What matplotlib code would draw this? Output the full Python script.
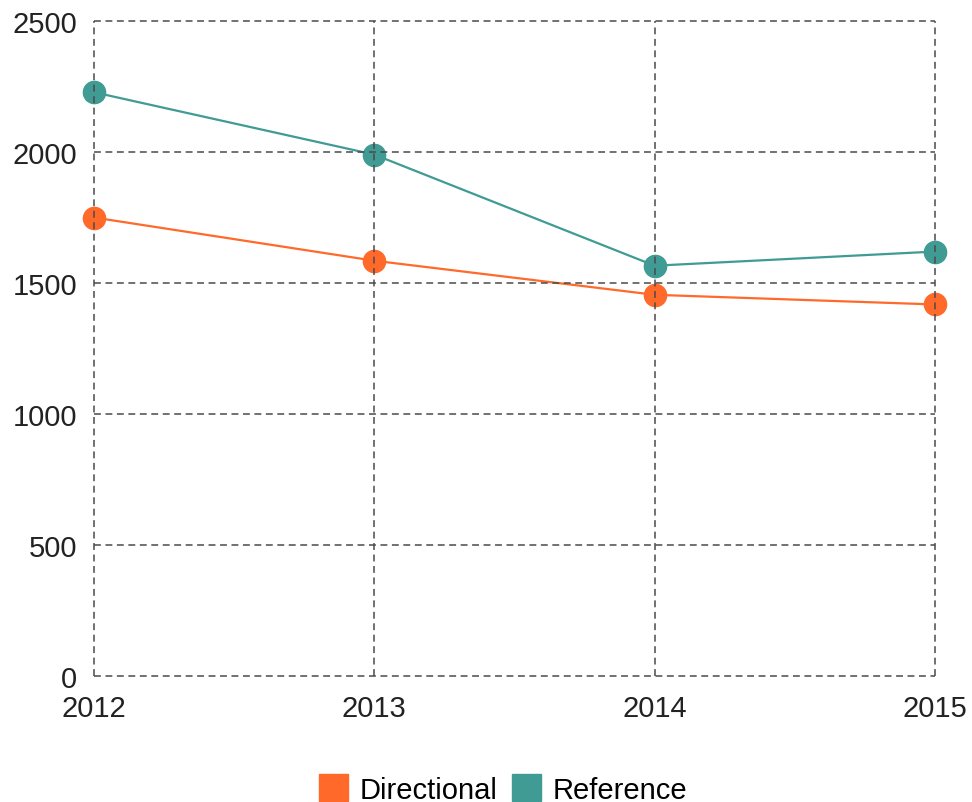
import matplotlib
matplotlib.use('Agg')
import matplotlib.pyplot as plt
from matplotlib.patches import Patch

years = [2012, 2013, 2014, 2015]
directional = [1750, 1585, 1455, 1418]
reference = [2228, 1990, 1566, 1620]
y_ticks = [0, 500, 1000, 1500, 2000, 2500]

c_dir = '#ff6a2b'
c_ref = '#3f9b93'

plt.rcParams['font.family'] = ['Liberation Sans', 'DejaVu Sans']

fig = plt.figure(figsize=(9.72, 8.03), dpi=100)
ax = fig.add_axes([94/972, 1-677/803, (935-94)/972, (677-22)/803])

ax.plot(years, directional, color=c_dir, lw=1.6, marker='o', ms=16, zorder=2, clip_on=False)
ax.plot(years, reference, color=c_ref, lw=1.6, marker='o', ms=16, zorder=2, clip_on=False)

ax.set_xlim(2012, 2015)
ax.set_ylim(0, 2500)
ax.set_xticks(years)
ax.set_yticks(y_ticks)
ax.tick_params(length=0, labelsize=21, colors='#222222')
ax.tick_params(axis='x', pad=13)
ax.tick_params(axis='y', pad=12)
for s in ax.spines.values():
    s.set_visible(False)

# dashed grid, drawn over everything incl. the outer frame
for y in y_ticks:
    ax.axhline(y, color='#4a4a4a', lw=1.1, ls=(0, (4.5, 3)), zorder=3, clip_on=False)
for x in years:
    ax.axvline(x, color='#4a4a4a', lw=1.1, ls=(0, (4.5, 3)), zorder=3, clip_on=False)

handles = [Patch(color=c_dir, label='Directional'), Patch(color=c_ref, label='Reference')]
fig.legend(handles=handles, loc='center', bbox_to_anchor=(503/972, 1-790/803), ncol=2,
           frameon=False, fontsize=21, handlelength=1.0, handleheight=1.0,
           handletextpad=0.4, columnspacing=0.5)

plt.savefig('out.png', dpi=100)
plt.close()
